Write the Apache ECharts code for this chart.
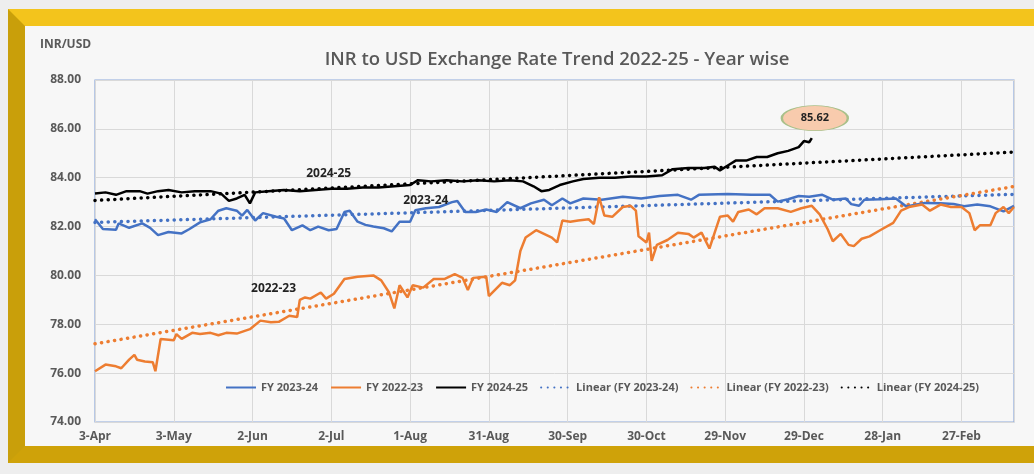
<!DOCTYPE html>
<html>
<head>
<meta charset="utf-8">
<script src="https://cdn.jsdelivr.net/npm/echarts@6/dist/echarts.min.js"></script>
<style>
  html, body { margin: 0; padding: 0; background: #eeeeee; }
  .frame {
    position: absolute; left: 8px; top: 9px; width: 1060px; height: 454px;
    box-sizing: border-box; border: 17px solid #f3c41c;
    border-left-color: #c99f0a; border-bottom-color: #cfa209;
    background: #f7f7f7;
  }
  #chart { position: absolute; left: 0; top: 0; width: 1034px; height: 474px; }
</style>
</head>
<body>
<div class="frame"></div>
<div id="chart"></div>
<script>
// x = days counted from 3-Apr
const tickLabels = ['3-Apr', '3-May', '2-Jun', '2-Jul', '1-Aug', '31-Aug', '30-Sep', '30-Oct', '29-Nov', '29-Dec', '28-Jan', '27-Feb'];

const fy2324Days = [0, 3, 8, 9, 13, 18, 21, 24, 28, 33, 36, 40, 44, 47, 50, 54, 56, 58, 61, 64, 69, 72, 75, 79, 82, 85, 89, 92, 95, 97, 100, 103, 106, 110, 113, 116, 120, 122, 126, 131, 136, 138, 141, 145, 149, 153, 157, 162, 166, 171, 174, 178, 181, 186, 193, 201, 208, 215, 222, 227, 230, 241, 250, 257, 260, 264, 268, 272, 277, 281, 286, 288, 291, 293, 299, 305, 309, 316, 322, 327, 331, 336, 341, 346, 350];
const fy2324Rates = [82.3, 81.9, 81.87, 82.13, 81.95, 82.13, 81.95, 81.65, 81.78, 81.72, 81.9, 82.17, 82.3, 82.65, 82.75, 82.65, 82.45, 82.68, 82.25, 82.55, 82.4, 82.33, 81.85, 82.05, 81.85, 82.0, 81.85, 81.9, 82.6, 82.65, 82.2, 82.07, 82.0, 81.93, 81.8, 82.2, 82.2, 82.67, 82.75, 82.8, 83.0, 83.05, 82.6, 82.6, 82.7, 82.6, 83.0, 82.75, 82.95, 83.1, 82.87, 83.15, 82.95, 83.15, 83.1, 83.22, 83.15, 83.25, 83.3, 83.1, 83.3, 83.33, 83.3, 83.3, 83.02, 83.12, 83.25, 83.22, 83.3, 83.1, 83.15, 82.92, 82.85, 83.1, 83.12, 83.15, 82.82, 82.97, 82.95, 82.92, 82.83, 82.9, 82.83, 82.62, 82.85];

const fy2223Days = [0, 4, 8, 10, 13, 15, 16, 19, 22, 23, 25, 30, 31, 33, 37, 40, 44, 47, 50, 54, 59, 63, 67, 70, 74, 77, 78, 80, 82, 86, 88, 91, 95, 100, 106, 109, 112, 114, 116, 119, 121, 125, 129, 133, 137, 140, 142, 144, 149, 150, 155, 158, 160, 162, 164, 168, 171, 174, 176, 178, 181, 184, 188, 190, 192, 194, 197, 201, 204, 206, 207, 210, 211, 212, 214, 218, 222, 226, 228, 231, 234, 236, 238, 241, 243, 245, 249, 252, 255, 260, 265, 269, 273, 276, 279, 281, 284, 287, 289, 292, 295, 299, 304, 307, 310, 315, 318, 322, 326, 330, 333, 335, 337, 341, 343, 346, 348, 350];
const fy2223Rates = [76.08, 76.35, 76.28, 76.2, 76.55, 76.75, 76.55, 76.48, 76.45, 76.08, 77.4, 77.35, 77.6, 77.4, 77.65, 77.6, 77.65, 77.55, 77.65, 77.62, 77.8, 78.15, 78.08, 78.1, 78.35, 78.3, 79.0, 79.1, 79.05, 79.3, 79.05, 79.25, 79.85, 79.95, 80.0, 79.8, 79.3, 78.65, 79.6, 79.1, 79.6, 79.5, 79.85, 79.85, 80.05, 79.9, 79.4, 79.9, 79.95, 79.15, 79.7, 79.6, 79.8, 81.0, 81.55, 81.85, 81.7, 81.55, 81.35, 82.25, 82.2, 82.25, 82.3, 82.1, 83.2, 82.45, 82.4, 82.8, 82.85, 82.65, 81.6, 81.35, 81.75, 80.6, 81.25, 81.45, 81.75, 81.7, 81.55, 81.75, 81.1, 81.75, 82.4, 82.45, 82.2, 82.6, 82.7, 82.5, 82.75, 82.75, 82.6, 82.75, 82.85, 82.5, 81.9, 81.4, 81.7, 81.25, 81.2, 81.5, 81.6, 81.85, 82.15, 82.65, 82.8, 82.9, 82.65, 82.9, 82.8, 82.8, 82.55, 81.85, 82.05, 82.05, 82.55, 82.8, 82.55, 82.8];

const fy2425Days = [0, 4, 8, 12, 17, 20, 24, 28, 33, 38, 44, 48, 51, 54, 57, 59, 61, 66, 72, 78, 84, 90, 96, 102, 108, 114, 120, 123, 128, 134, 140, 146, 152, 158, 163, 167, 170, 173, 177, 182, 186, 192, 198, 204, 210, 216, 220, 226, 232, 236, 238, 241, 244, 248, 252, 256, 260, 264, 268, 270, 272, 273];
const fy2425Rates = [83.35, 83.4, 83.3, 83.45, 83.45, 83.35, 83.45, 83.5, 83.4, 83.45, 83.45, 83.35, 83.05, 83.15, 83.3, 82.95, 83.4, 83.45, 83.5, 83.45, 83.5, 83.55, 83.55, 83.6, 83.6, 83.65, 83.7, 83.9, 83.85, 83.9, 83.85, 83.9, 83.85, 83.9, 83.85, 83.65, 83.45, 83.5, 83.7, 83.85, 83.95, 84.0, 84.0, 84.05, 84.05, 84.1, 84.35, 84.4, 84.4, 84.45, 84.3, 84.5, 84.7, 84.7, 84.85, 84.85, 85.0, 85.1, 85.25, 85.5, 85.45, 85.62];

// trend lines read at the two plot edges
const trendDays = [0, 350];
const trend2324 = [82.17, 83.32];
const trend2223 = [77.2, 83.64];
const trend2425 = [83.07, 85.05];

const seriesNames = ['FY 2023-24', 'FY 2022-23', 'FY 2024-25', 'Linear (FY 2023-24)', 'Linear (FY 2022-23)', 'Linear (FY 2024-25)'];
const colors = ['#4472c4', '#ed7d31', '#000000'];

const zip = (xs, ys) => xs.map((x, i) => [x, ys[i]]);
const txt = '#595959';

const chart = echarts.init(document.getElementById('chart'));

function dataLine(name, days, rates, color, tag) {
  return {
    name: name, type: 'line', data: zip(days, rates),
    showSymbol: false, symbol: 'none',
    lineStyle: { color: color, width: 2.5 }, itemStyle: { color: color },
    z: 3,
    markPoint: {
      symbol: 'rect', symbolSize: 0, silent: true,
      label: { show: true, formatter: tag.text, color: '#222', fontWeight: 'bold', fontSize: 12, fontFamily: 'Open Sans' },
      data: [{ coord: tag.coord }]
    }
  };
}

function trendLine(name, values, color) {
  return {
    name: name, type: 'line', data: zip(trendDays, values),
    showSymbol: false, symbol: 'none', z: 2,
    lineStyle: { color: color, width: 3.5, type: [0.1, 6.5], cap: 'round' },
    itemStyle: { color: color }
  };
}

const blackSeries = dataLine(seriesNames[2], fy2425Days, fy2425Rates, colors[2], { text: '2024-25', coord: [89, 84.17] });
blackSeries.markPoint.data.push({
  coord: [fy2425Days[fy2425Days.length - 1], fy2425Rates[fy2425Rates.length - 1]],
  symbol: 'path://M0,50 A50,50 0 1,1 100,50 A50,50 0 1,1 0,50 Z',
  symbolSize: [66, 25], symbolOffset: [3, -20],
  itemStyle: { color: '#f8cbad', borderColor: '#a9c08a', borderWidth: 1.5 },
  label: { show: true, formatter: '85.62', color: '#222', fontWeight: 'bold', fontSize: 11, fontFamily: 'Open Sans' }
});

chart.setOption({
  backgroundColor: 'transparent',
  animation: false,
  title: {
    text: 'INR to USD Exchange Rate Trend 2022-25 - Year wise',
    left: 552, top: 45, textAlign: 'center',
    textStyle: { color: txt, fontSize: 18.5, fontWeight: 600, fontFamily: 'Open Sans' }
  },
  graphic: [{
    type: 'text', left: 40, top: 39,
    style: { text: 'INR/USD', fill: txt, font: 'bold 12px "Open Sans"' }
  }],
  legend: {
    left: 220, top: 377, itemGap: 12, itemWidth: 30, itemHeight: 10,
    data: seriesNames,
    itemStyle: { opacity: 0 },
    textStyle: { color: txt, fontSize: 11, fontWeight: 'bold', fontFamily: 'Open Sans' }
  },
  grid: {
    left: 95, right: 20, top: 80, bottom: 52, show: true,
    borderColor: '#8eaadb', borderWidth: 1.2, backgroundColor: 'transparent'
  },
  xAxis: {
    type: 'value', min: 0, max: 350, interval: 30,
    axisLine: { show: false }, axisTick: { show: false },
    splitLine: { show: true, lineStyle: { color: '#d9d9d9' } },
    axisLabel: {
      showMaxLabel: false, margin: 9, color: txt, fontSize: 12, fontWeight: 'bold', fontFamily: 'Open Sans',
      formatter: v => tickLabels[v / 30] || ''
    }
  },
  yAxis: {
    type: 'value', min: 74, max: 88, interval: 2,
    axisLine: { show: false }, axisTick: { show: false },
    splitLine: { lineStyle: { color: '#d9d9d9' } },
    axisLabel: {
      margin: 14, color: txt, fontSize: 12, fontWeight: 'bold', fontFamily: 'Open Sans',
      formatter: v => v.toFixed(2)
    }
  },
  series: [
    dataLine(seriesNames[0], fy2324Days, fy2324Rates, colors[0], { text: '2023-24', coord: [126, 83.08] }),
    dataLine(seriesNames[1], fy2223Days, fy2223Rates, colors[1], { text: '2022-23', coord: [68, 79.45] }),
    blackSeries,
    trendLine(seriesNames[3], trend2324, colors[0]),
    trendLine(seriesNames[4], trend2223, colors[1]),
    trendLine(seriesNames[5], trend2425, colors[2])
  ]
});
</script>
</body>
</html>
